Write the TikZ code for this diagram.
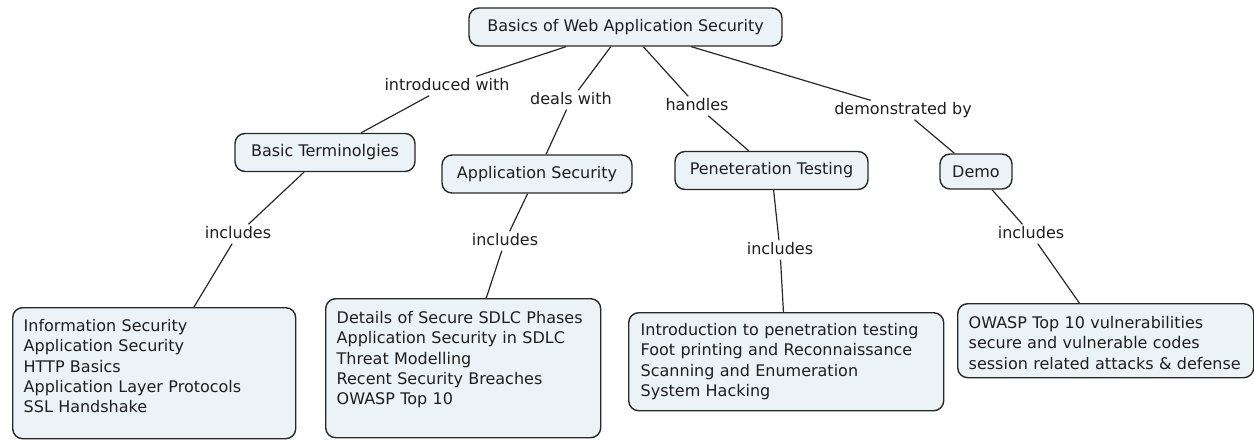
\documentclass[tikz,border=0pt]{standalone}
\usepackage{fontspec}
\setmainfont{DejaVu Sans}
\definecolor{boxfill}{RGB}{236,243,246}
\definecolor{edgecol}{RGB}{40,40,40}
\definecolor{txtcol}{RGB}{30,30,30}
\begin{document}
\begin{tikzpicture}[x=1pt,y=-1pt,
  every node/.style={font=\fontsize{16}{20.2}\selectfont, text=txtcol},
  concept/.style={draw=edgecol, line width=1.4pt, fill=boxfill, rounded corners=10pt, inner xsep=6pt, inner ysep=0pt, minimum height=38pt},
  listbox/.style={draw=edgecol, line width=1.4pt, fill=boxfill, rounded corners=10pt, anchor=north west, inner ysep=0pt, align=left},
  linklabel/.style={inner sep=2pt, text height=12pt, text depth=3pt},
  link/.style={draw=edgecol, line width=1.2pt}]
\useasboundingbox (0,0) rectangle (1254,440);

% concepts
\node[concept, minimum width=313pt] (root) at (625.5,27) {Basics of Web Application Security};
\node[concept, minimum width=180pt] (basic) at (325,152.5) {Basic Terminolgies};
\node[concept, minimum width=190pt] (appsec) at (537,174) {Application Security};
\node[concept, minimum width=193pt] (pentest) at (771.5,170.5) {Peneteration Testing};
\node[concept, minimum width=72pt, minimum height=35pt] (demo) at (976,171.5) {Demo};

% list boxes
\node[listbox, inner xsep=11pt, text width=261pt, text height=24pt, text depth=107pt] (b1) at (12,307)
  {Information Security\\Application Security\\HTTP Basics\\Application Layer Protocols\\SSL Handshake};
\node[listbox, inner xsep=11pt, text width=253pt, text height=25pt, text depth=114pt] (b2) at (325,298)
  {Details of Secure SDLC Phases\\Application Security in SDLC\\Threat Modelling\\Recent Security Breaches\\OWASP Top 10};
\node[listbox, inner xsep=12pt, text width=291pt, text height=23pt, text depth=75pt] (b3) at (628,312)
  {Introduction to penetration testing\\Foot printing and Reconnaissance\\Scanning and Enumeration\\System Hacking};
\node[listbox, inner xsep=11pt, text width=274pt, text height=25pt, text depth=49pt] (b4) at (957,303)
  {OWASP Top 10 vulnerabilities\\secure and vulnerable codes\\session related attacks \& defense};

% link labels
\node[linklabel] (l1) at (447,86) {introduced with};
\node[linklabel] (l2) at (571,100) {deals with};
\node[linklabel] (l3) at (697,106) {handles};
\node[linklabel] (l4) at (903,110) {demonstrated by};
\node[linklabel] (i1) at (238,234) {includes};
\node[linklabel] (i2) at (505,241) {includes};
\node[linklabel] (i3) at (780,250) {includes};
\node[linklabel] (i4) at (1031,234) {includes};

% connectors
\draw[link] (root) -- (l1);
\draw[link] (l1) -- (basic);
\draw[link] (root) -- (l2);
\draw[link] (l2) -- (appsec);
\draw[link] (root) -- (l3);
\draw[link] (l3) -- (pentest);
\draw[link] (root) -- (l4);
\draw[link] (l4) -- (demo);
\draw[link] (basic) -- (i1);
\draw[link] (i1) -- (b1);
\draw[link] (appsec) -- (i2);
\draw[link] (i2) -- (b2);
\draw[link] (pentest) -- (i3);
\draw[link] (i3) -- (b3);
\draw[link] (demo) -- (i4);
\draw[link] (i4) -- (b4);
\end{tikzpicture}
\end{document}
